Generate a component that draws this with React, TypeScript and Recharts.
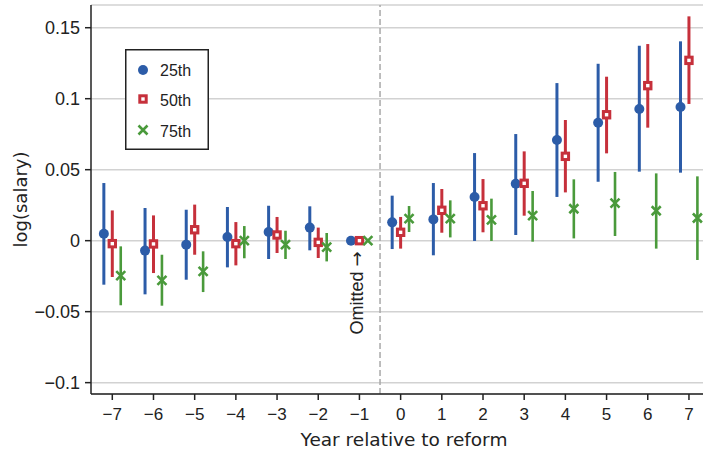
import React from 'react';
import { ScatterChart, Scatter, XAxis, YAxis, CartesianGrid, ErrorBar, ReferenceLine, Legend } from 'recharts';

const years = [-7, -6, -5, -4, -3, -2, -1, 0, 1, 2, 3, 4, 5, 6, 7];
const seriesNames = ['25th', '50th', '75th'];
const p25 = [0.0049, -0.007, -0.0028, 0.0026, 0.0061, 0.0092, 0, 0.0129, 0.015, 0.0307, 0.0401, 0.0709, 0.0831, 0.0927, 0.0941];
const p25Lo = [-0.031, -0.0378, -0.0275, -0.0188, -0.0129, -0.0068, 0, -0.0059, -0.0103, -0.0002, 0.004, 0.0308, 0.0415, 0.0486, 0.0479];
const p25Hi = [0.0406, 0.023, 0.0218, 0.0237, 0.0246, 0.0242, 0, 0.0317, 0.0406, 0.0617, 0.0751, 0.111, 0.1246, 0.1373, 0.1404];
const p50 = [-0.0021, -0.0023, 0.0077, -0.0021, 0.004, -0.0012, 0, 0.0059, 0.0214, 0.0246, 0.0404, 0.0594, 0.0887, 0.1092, 0.127];
const p50Lo = [-0.0256, -0.0228, -0.0099, -0.0174, -0.0087, -0.0122, 0, -0.0056, 0.0056, 0.0059, 0.0176, 0.034, 0.0615, 0.0796, 0.0963];
const p50Hi = [0.0213, 0.0178, 0.0254, 0.0131, 0.0167, 0.0092, 0, 0.0167, 0.0364, 0.0434, 0.0629, 0.085, 0.1155, 0.1385, 0.158];
const p75 = [-0.0246, -0.028, -0.0216, 0.0, -0.0028, -0.0045, 0, 0.0155, 0.0155, 0.0146, 0.0176, 0.0225, 0.0265, 0.0211, 0.016];
const p75Lo = [-0.0455, -0.0458, -0.0362, -0.0124, -0.0129, -0.0146, 0, 0.0061, 0.0023, -0.0002, -0.0007, 0.0016, 0.0033, -0.0056, -0.0136];
const p75Hi = [-0.004, -0.0099, -0.0075, 0.0103, 0.007, 0.0054, 0, 0.0244, 0.0284, 0.0296, 0.035, 0.0432, 0.0484, 0.0474, 0.0453];
const yTicks = [-0.1, -0.05, 0, 0.05, 0.1, 0.15];

const BLUE = '#2c5ca8';
const RED = '#c6303b';
const GREEN = '#4a9a3b';
const FONT = '"Liberation Sans", Arial, sans-serif';

const build = (vals: number[], lo: number[], hi: number[], off: number) =>
  years.map((yr, i) => ({ x: yr + off, y: vals[i], err: [vals[i] - lo[i], hi[i] - vals[i]] }));

const d25 = build(p25, p25Lo, p25Hi, -0.205);
const d50 = build(p50, p50Lo, p50Hi, 0);
const d75 = build(p75, p75Lo, p75Hi, 0.205);

const fmtNum = (v: number) => (v === 0 ? '0' : (v < 0 ? '\u2212' : '') + String(Math.abs(v)));

const Dot = (p: any) => <circle cx={p.cx} cy={p.cy} r={5} fill={BLUE} />;
const Sq = (p: any) => (
  <rect x={p.cx - 3.2} y={p.cy - 3.2} width={6.4} height={6.4} fill="#fff" stroke={RED} strokeWidth={3} />
);
const Cross = (p: any) => (
  <path
    d={`M${p.cx - 4.5},${p.cy - 4.5}L${p.cx + 4.5},${p.cy + 4.5}M${p.cx - 4.5},${p.cy + 4.5}L${p.cx + 4.5},${p.cy - 4.5}`}
    stroke={GREEN}
    strokeWidth={2.6}
    fill="none"
  />
);

const LegendBox = () => (
  <svg width={84} height={101} style={{ display: 'block' }}>
    <rect x={0.75} y={0.75} width={82.5} height={99.5} fill="#fff" stroke="#222" strokeWidth={1.5} />
    <circle cx={18} cy={21} r={5} fill={BLUE} />
    <rect x={14.8} y={46.8} width={6.4} height={6.4} fill="#fff" stroke={RED} strokeWidth={3} />
    <path d="M13.5,76.5L22.5,85.5M13.5,85.5L22.5,76.5" stroke={GREEN} strokeWidth={2.6} />
    {seriesNames.map((n, i) => (
      <text key={n} x={35} y={21 + i * 30.5} dy="0.35em" fontSize={16} fill="#222" fontFamily={FONT}>
        {n}
      </text>
    ))}
  </svg>
);

const OmittedLabel = (props: any) => {
  const vb = props.viewBox || {};
  const x = (vb.x ?? 380) - 17;
  const y = 293;
  return (
    <text x={x} y={y} transform={`rotate(-90, ${x}, ${y})`} textAnchor="middle" fontSize={18} fill="#222" fontFamily={FONT}>
      {'Omitted '}
      <tspan fontFamily='"DejaVu Sans", sans-serif'>{'\u2192'}</tspan>
    </text>
  );
};

const YLabel = (props: any) => {
  const vb = props.viewBox || {};
  const x = 27;
  const y = (vb.y ?? 5) + (vb.height ?? 389) / 2;
  return (
    <text x={x} y={y} transform={`rotate(-90, ${x}, ${y})`} textAnchor="middle" fontSize={18} fill="#222" fontFamily='"DejaVu Sans", sans-serif'>
      log(salary)
    </text>
  );
};

const XLabel = () => (
  <text x={404} y={446} textAnchor="middle" fontSize={18.5} fill="#222" fontFamily='"DejaVu Sans", sans-serif'>
    Year relative to reform
  </text>
);

export default function App() {
  return (
    <div style={{ position: 'absolute', left: 0, top: 0, width: 703, height: 454, background: '#fff' }}>
      <ScatterChart width={703} height={454} margin={{ top: 5, right: 0, bottom: 0, left: 0 }}>
        <CartesianGrid vertical={false} stroke="#d2d2d2" strokeWidth={1.5} />
        <XAxis
          type="number"
          dataKey="x"
          domain={[-7.517, 7.341]}
          allowDataOverflow
          ticks={years}
          tickFormatter={fmtNum}
          height={60}
          stroke="#222"
          strokeWidth={1.5}
          tickSize={6}
          tickMargin={8}
          tick={{ fontSize: 17, fill: '#222', fontFamily: FONT }}
          label={<XLabel />}
        />
        <YAxis
          type="number"
          dataKey="y"
          domain={[-0.108, 0.166]}
          allowDataOverflow
          ticks={yTicks}
          tickFormatter={fmtNum}
          width={91}
          stroke="#222"
          strokeWidth={1.5}
          tickSize={6}
          tickMargin={5}
          tick={{ fontSize: 18, fill: '#222', fontFamily: FONT }}
          label={<YLabel />}
        />
        <ReferenceLine x={-0.5} stroke="#a8a8a8" strokeWidth={1.5} strokeDasharray="6 3" label={<OmittedLabel />} />
        <Scatter name="25th" data={d25} shape={<Dot />} isAnimationActive={false}>
          <ErrorBar dataKey="err" direction="y" width={0} stroke={BLUE} strokeWidth={3} isAnimationActive={false} />
        </Scatter>
        <Scatter name="50th" data={d50} shape={<Sq />} isAnimationActive={false}>
          <ErrorBar dataKey="err" direction="y" width={0} stroke={RED} strokeWidth={3} isAnimationActive={false} />
        </Scatter>
        <Scatter name="75th" data={d75} shape={<Cross />} isAnimationActive={false}>
          <ErrorBar dataKey="err" direction="y" width={0} stroke={GREEN} strokeWidth={2.6} isAnimationActive={false} />
        </Scatter>
        <Legend
          layout="vertical"
          align="center"
          verticalAlign="middle"
          content={<LegendBox />}
          wrapperStyle={{ position: 'absolute', left: 125, top: 49, width: 84, height: 101, margin: 0, padding: 0 }}
        />
      </ScatterChart>
    </div>
  );
}
